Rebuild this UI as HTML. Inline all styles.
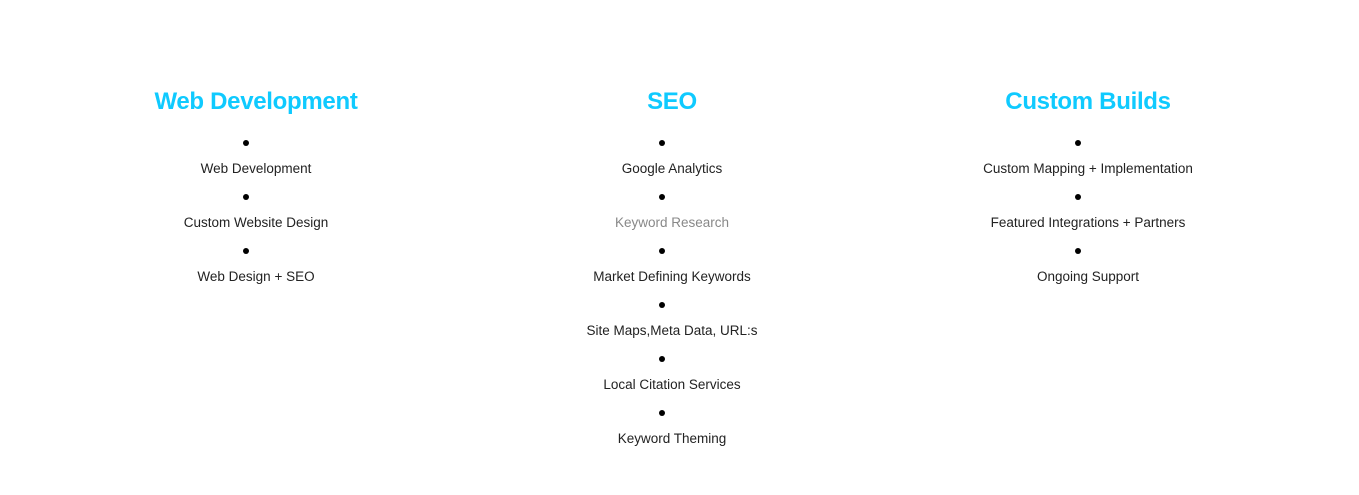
<!DOCTYPE html>
<html><head><style>
body{margin:0;width:1359px;height:495px;background:#fff;position:relative;overflow:hidden;font-family:"Liberation Sans",sans-serif}
.h{position:absolute;top:86px;width:400px;text-align:center;color:#0fcaff;font-weight:bold;font-size:24px;letter-spacing:-0.3px;line-height:32px}
.d{position:absolute;width:6px;height:6px;border-radius:50%;background:#000}
.t{position:absolute;width:400px;text-align:center;font-size:13.5px;color:#222;line-height:18px}
</style></head><body>
<div class="h" style="left:56px">Web Development</div>
<div class="h" style="left:472px">SEO</div>
<div class="h" style="left:888px">Custom Builds</div>

<div class="d" style="left:243px;top:140px"></div><div class="t" style="left:56px;top:160px">Web Development</div>
<div class="d" style="left:243px;top:194px"></div><div class="t" style="left:56px;top:214px">Custom Website Design</div>
<div class="d" style="left:243px;top:248px"></div><div class="t" style="left:56px;top:268px">Web Design + SEO</div>

<div class="d" style="left:659px;top:140px"></div><div class="t" style="left:472px;top:160px">Google Analytics</div>
<div class="d" style="left:659px;top:194px"></div><div class="t" style="left:472px;top:214px;color:#888">Keyword Research</div>
<div class="d" style="left:659px;top:248px"></div><div class="t" style="left:472px;top:268px">Market Defining Keywords</div>
<div class="d" style="left:659px;top:302px"></div><div class="t" style="left:472px;top:322px">Site Maps,Meta Data, URL:s</div>
<div class="d" style="left:659px;top:356px"></div><div class="t" style="left:472px;top:376px">Local Citation Services</div>
<div class="d" style="left:659px;top:410px"></div><div class="t" style="left:472px;top:430px">Keyword Theming</div>

<div class="d" style="left:1075px;top:140px"></div><div class="t" style="left:888px;top:160px">Custom Mapping + Implementation</div>
<div class="d" style="left:1075px;top:194px"></div><div class="t" style="left:888px;top:214px">Featured Integrations + Partners</div>
<div class="d" style="left:1075px;top:248px"></div><div class="t" style="left:888px;top:268px">Ongoing Support</div>
</body></html>
